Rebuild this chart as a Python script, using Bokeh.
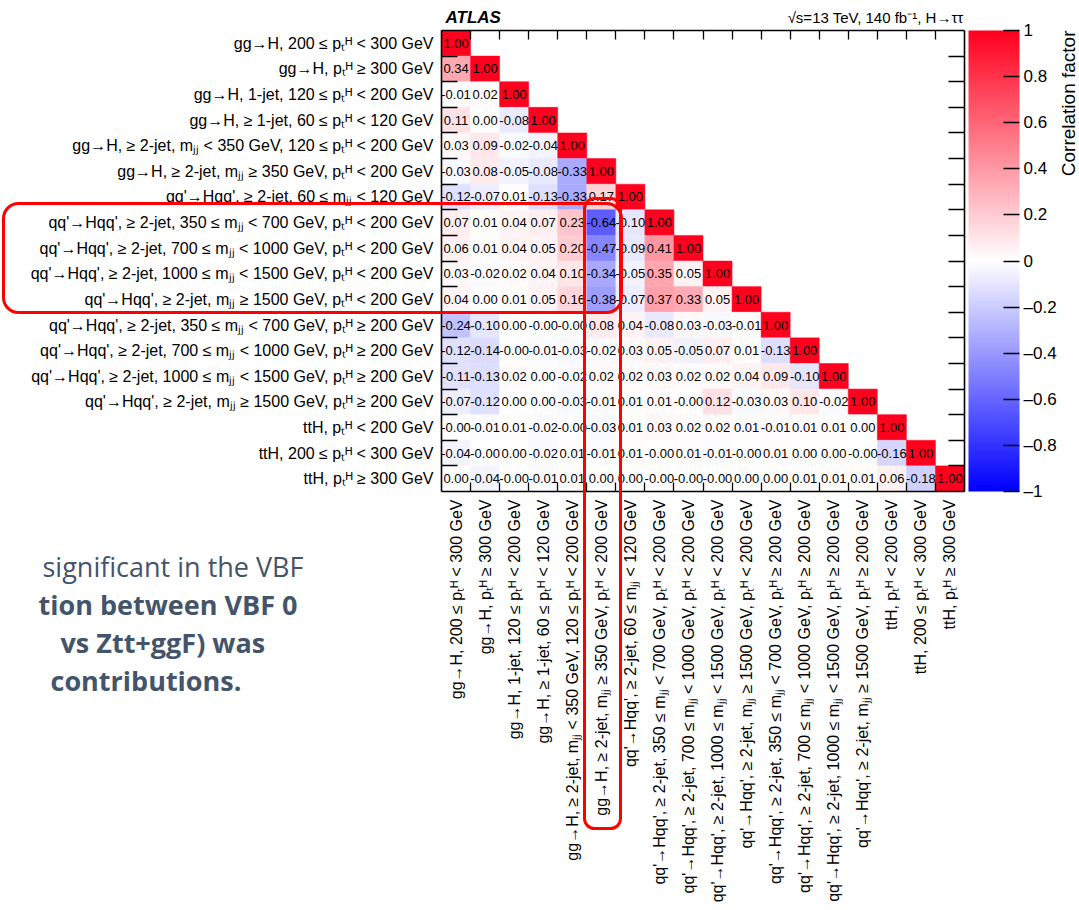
import math
from bokeh.plotting import figure
from bokeh.models import (Range1d, LinearAxis, FixedTicker,
                          LinearColorMapper, ColorBar, Label, BoxAnnotation, ColumnDataSource)
from bokeh.transform import transform
from bokeh.core.properties import value
from bokeh.embed import file_html
from bokeh.resources import INLINE

PT = "p\u209c\u1d34"
MJJ = "m\u2c7c\u2c7c"

labels = [
    f"gg\u2192H, 200 \u2264 {PT} < 300 GeV",
    f"gg\u2192H, {PT} \u2265 300 GeV",
    f"gg\u2192H, 1-jet, 120 \u2264 {PT} < 200 GeV",
    f"gg\u2192H, \u2265 1-jet, 60 \u2264 {PT} < 120 GeV",
    f"gg\u2192H, \u2265 2-jet, {MJJ} < 350 GeV, 120 \u2264 {PT} < 200 GeV",
    f"gg\u2192H, \u2265 2-jet, {MJJ} \u2265 350 GeV, {PT} < 200 GeV",
    f"qq'\u2192Hqq', \u2265 2-jet, 60 \u2264 {MJJ} < 120 GeV",
    f"qq'\u2192Hqq', \u2265 2-jet, 350 \u2264 {MJJ} < 700 GeV, {PT} < 200 GeV",
    f"qq'\u2192Hqq', \u2265 2-jet, 700 \u2264 {MJJ} < 1000 GeV, {PT} < 200 GeV",
    f"qq'\u2192Hqq', \u2265 2-jet, 1000 \u2264 {MJJ} < 1500 GeV, {PT} < 200 GeV",
    f"qq'\u2192Hqq', \u2265 2-jet, {MJJ} \u2265 1500 GeV, {PT} < 200 GeV",
    f"qq'\u2192Hqq', \u2265 2-jet, 350 \u2264 {MJJ} < 700 GeV, {PT} \u2265 200 GeV",
    f"qq'\u2192Hqq', \u2265 2-jet, 700 \u2264 {MJJ} < 1000 GeV, {PT} \u2265 200 GeV",
    f"qq'\u2192Hqq', \u2265 2-jet, 1000 \u2264 {MJJ} < 1500 GeV, {PT} \u2265 200 GeV",
    f"qq'\u2192Hqq', \u2265 2-jet, {MJJ} \u2265 1500 GeV, {PT} \u2265 200 GeV",
    f"ttH, {PT} < 200 GeV",
    f"ttH, 200 \u2264 {PT} < 300 GeV",
    f"ttH, {PT} \u2265 300 GeV",
]

row_00 = [1.00]
row_01 = [0.34, 1.00]
row_02 = [-0.01, 0.02, 1.00]
row_03 = [0.11, 0.00, -0.08, 1.00]
row_04 = [0.03, 0.09, -0.02, -0.04, 1.00]
row_05 = [-0.03, 0.08, -0.05, -0.08, -0.33, 1.00]
row_06 = [-0.12, -0.07, 0.01, -0.13, -0.33, 0.17, 1.00]
row_07 = [0.07, 0.01, 0.04, 0.07, 0.23, -0.64, -0.10, 1.00]
row_08 = [0.06, 0.01, 0.04, 0.05, 0.20, -0.47, -0.09, 0.41, 1.00]
row_09 = [0.03, -0.02, 0.02, 0.04, 0.10, -0.34, -0.05, 0.35, 0.05, 1.00]
row_10 = [0.04, 0.00, 0.01, 0.05, 0.16, -0.38, -0.07, 0.37, 0.33, 0.05, 1.00]
row_11 = [-0.24, -0.10, 0.00, -0.00, -0.00, 0.08, 0.04, -0.08, 0.03, -0.03, -0.01, 1.00]
row_12 = [-0.12, -0.14, -0.00, -0.01, -0.03, -0.02, 0.03, 0.05, -0.05, 0.07, 0.01, -0.13, 1.00]
row_13 = [-0.11, -0.13, 0.02, 0.00, -0.02, 0.02, 0.02, 0.03, 0.02, 0.02, 0.04, 0.09, -0.10, 1.00]
row_14 = [-0.07, -0.12, 0.00, 0.00, -0.03, -0.01, 0.01, 0.01, -0.00, 0.12, -0.03, 0.03, 0.10, -0.02, 1.00]
row_15 = [-0.00, -0.01, 0.01, -0.02, -0.00, -0.03, 0.01, 0.03, 0.02, 0.02, 0.01, -0.01, 0.01, 0.01, 0.00, 1.00]
row_16 = [-0.04, -0.00, 0.00, -0.02, 0.01, -0.01, 0.01, -0.00, 0.01, -0.01, -0.00, 0.01, 0.00, 0.00, -0.00, -0.16, 1.00]
row_17 = [0.00, -0.04, -0.00, -0.01, 0.01, 0.00, 0.00, -0.00, -0.00, -0.00, 0.00, 0.00, 0.01, 0.01, 0.01, 0.06, -0.18, 1.00]
rows = [row_00, row_01, row_02, row_03, row_04, row_05, row_06, row_07, row_08,
        row_09, row_10, row_11, row_12, row_13, row_14, row_15, row_16, row_17]

cbar_ticks = [-1.0, -0.8, -0.6, -0.4, -0.2, 0.0, 0.2, 0.4, 0.6, 0.8, 1.0]

slide_lines = ["significant in the VBF", "tion between VBF 0", "vs Ztt+ggF) was", "contributions."]

# ---------------- layout constants (pixels) ----------------
W, H = 1079, 910
FL, FR, FT, FB = 441, 964, 30, 491   # matrix box in page pixels
N = len(labels)
CW = (FR - FL) / N
CH = (FB - FT) / N


def bx(px):
    return (px - FL) / CW


def by(py):
    return (FB - py) / CH


FONT = "Liberation Sans"

# palette blue - white - red
palette = []
for k in range(256):
    t = k / 255 * 2 - 1
    if t < 0:
        f = 1 + t
        r, g, b = 255 * f, 255 * f, 255
    else:
        f = 1 - t
        r, g, b = 255, 255 * f, 30 + 225 * f
    palette.append("#%02x%02x%02x" % (int(round(r)), int(round(g)), int(round(b))))
mapper = LinearColorMapper(palette=palette, low=-1, high=1)

# column index j -> x position j+0.5, row index i -> y position N-0.5-i (top row first)
xs, ys, vals, txt = [], [], [], []
for i, row in enumerate(rows):
    for j, v in enumerate(row):
        xs.append(j + 0.5)
        ys.append(N - 0.5 - i)
        vals.append(v)
        txt.append(f"{v:.2f}")
src = ColumnDataSource(dict(x=xs, y=ys, v=vals, t=txt))

p = figure(width=W, height=H, x_range=Range1d(bx(0), bx(W)), y_range=Range1d(by(H), by(0)),
           x_axis_location=None, y_axis_location=None,
           toolbar_location=None, output_backend="svg", min_border=0)
p.outline_line_color = None
p.xgrid.visible = False
p.ygrid.visible = False
p.background_fill_color = "white"
p.border_fill_color = "white"

p.rect(x="x", y="y", width=1, height=1, source=src,
       fill_color=transform("v", mapper), line_color=transform("v", mapper), line_width=0.5)
p.text(x="x", y="y", text="t", source=src, text_align="center", text_baseline="middle",
       text_font=value(FONT), text_font_size="13px", text_color="black")

centers = [k + 0.5 for k in range(N)]
bounds = list(range(1, N))


def frame_axis(loc, tin, overrides, **kw):
    return LinearAxis(fixed_location=loc, bounds=(0, N),
                      ticker=FixedTicker(ticks=centers, minor_ticks=bounds),
                      major_label_overrides=overrides,
                      major_tick_line_color=None, major_tick_in=0, major_tick_out=0,
                      minor_tick_in=tin, minor_tick_out=0, minor_tick_line_color="black",
                      minor_tick_line_width=1.3,
                      axis_line_color="black", axis_line_width=1.6,
                      major_label_standoff=8, major_label_text_font=FONT,
                      major_label_text_font_size="16px", major_label_text_color="black", **kw)


blank = {c: "" for c in centers}
p.add_layout(frame_axis(N, 9, blank), "above")
p.add_layout(frame_axis(N, 16, blank), "right")
p.add_layout(frame_axis(0, 16, {N - 0.5 - i: labels[i] for i in range(N)}), "left")
p.add_layout(frame_axis(0, 9, {j + 0.5: labels[j] for j in range(N)},
                        major_label_orientation=math.pi / 2), "below")

cb = ColorBar(color_mapper=mapper, width=51, height=FB - FT, padding=0, margin=0,
              location=(968, H - FB),
              ticker=FixedTicker(ticks=cbar_ticks, minor_ticks=[]),
              major_label_overrides={t: ("%g" % t).replace("-", "\u2013") for t in cbar_ticks},
              major_tick_in=16, major_tick_out=0, major_tick_line_color="black",
              major_tick_line_width=1.3, label_standoff=4,
              major_label_text_font=FONT, major_label_text_font_size="17px",
              major_label_text_color="black",
              bar_line_color=None, border_line_color=None, background_fill_color=None)
p.add_layout(cb)

p.add_layout(Label(x=bx(1068), y=by(30),
                   text="Correlation factor", angle=math.pi / 2, text_align="right",
                   text_baseline="middle", text_font=FONT, text_font_size="19px",
                   text_color="black"))
p.add_layout(Label(x=bx(445), y=by(17),
                   text="ATLAS", text_align="left", text_baseline="middle",
                   text_font=FONT, text_font_size="17px", text_font_style="bold italic",
                   text_color="black"))
p.add_layout(Label(x=bx(963), y=by(17),
                   text="\u221as=13 TeV, 140 fb\u207b\u00b9, H\u2192\u03c4\u03c4",
                   text_align="right", text_baseline="middle",
                   text_font=FONT, text_font_size="15px", text_color="black"))

slide_x = [42, 38, 60, 50]
slide_y = [566, 604, 642, 680]
for k, s in enumerate(slide_lines):
    p.add_layout(Label(x=bx(slide_x[k]), y=by(slide_y[k]),
                       text=s, text_align="left", text_baseline="middle",
                       text_font="Open Sans", text_font_size="27px",
                       text_font_style="normal" if k == 0 else "bold",
                       text_color="#44546a"))

p.add_layout(BoxAnnotation(left=bx(3), right=bx(621), top=by(203), bottom=by(312),
                           fill_color=None, line_color="#ff0000", line_alpha=1.0, line_width=3,
                           border_radius=15))
p.add_layout(BoxAnnotation(left=bx(584), right=bx(620), top=by(198), bottom=by(828),
                           fill_color=None, line_color="#ff0000", line_alpha=1.0, line_width=3,
                           border_radius=10))

open("out.html", "w").write(file_html(p, INLINE))
